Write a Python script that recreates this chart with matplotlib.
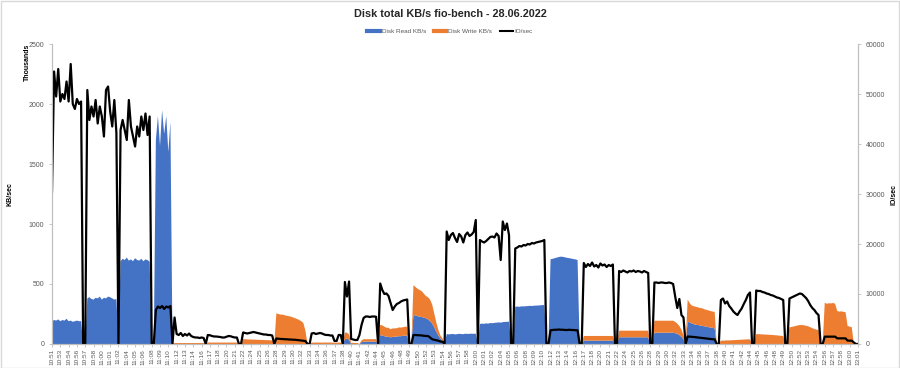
import matplotlib
matplotlib.use('Agg')
import matplotlib.pyplot as plt
from matplotlib.lines import Line2D
from matplotlib.patches import Rectangle
import numpy as np

plt.rcParams['font.family'] = ['Liberation Sans', 'DejaVu Sans']

# one sample every 20 s, one time label every 4 samples (80 s)
time_labels = [
    '10:51', '10:53', '10:54', '10:56', '10:57', '10:58', '11:00', '11:01', '11:02', '11:04',
    '11:05', '11:06', '11:08', '11:09', '11:10', '11:12', '11:13', '11:14', '11:16', '11:17',
    '11:18', '11:20', '11:21', '11:22', '11:24', '11:25', '11:26', '11:28', '11:29', '11:30',
    '11:32', '11:33', '11:34', '11:36', '11:37', '11:38', '11:40', '11:41', '11:42', '11:44',
    '11:45', '11:46', '11:48', '11:49', '11:50', '11:52', '11:53', '11:54', '11:56', '11:57',
    '11:58', '12:00', '12:01', '12:02', '12:04', '12:05', '12:06', '12:08', '12:09', '12:10',
    '12:12', '12:13', '12:14', '12:16', '12:17', '12:18', '12:20', '12:21', '12:22', '12:24',
    '12:25', '12:26', '12:28', '12:29', '12:30', '12:32', '12:33', '12:34', '12:36', '12:37',
    '12:38', '12:40', '12:41', '12:42', '12:44', '12:45', '12:46', '12:48', '12:49', '12:50',
    '12:52', '12:53', '12:54', '12:56', '12:57', '12:58', '13:00', '13:01',
]

# Disk Read KB/s (thousands)
read_kbs = [
    190, 200, 195, 205, 190, 200, 195, 210, 190, 195, 185, 190, 195, 190, 190,
    0, 0,
    380, 390, 375, 370, 385, 380, 395, 370, 385, 380, 395, 390, 380, 370, 375,
    0,
    690, 710, 700, 720, 695, 705, 690, 715, 700, 695, 710, 690, 705, 700, 685,
    0, 0,
    1700, 1900, 1650, 1950, 1750, 1900, 1600, 1850,
    0,
    0, 0, 0, 0, 0, 0, 0, 0, 0, 0, 0, 0, 0, 0, 0,
    0,
    0, 0, 0, 0, 0, 0, 0, 0, 0, 0, 0, 0, 0, 0, 0,
    0, 0,
    0, 0, 0, 0, 0, 0, 0, 0, 0, 0, 0, 0, 0, 0, 0,
    0,
    0, 0, 0, 0, 0, 0, 0, 0, 0, 0, 0, 0, 0, 0, 0,
    0, 0,
    0, 0, 0, 0, 0, 0, 0, 0, 0, 0, 0,
    0, 0, 0, 0,
    0,
    40, 45, 35,
    0, 0, 0, 0,
    0, 15, 20, 20, 20, 20, 20, 20, 20,
    0,
    75, 70, 65, 60, 60, 55, 60, 60, 62, 65, 65, 68, 70, 70,
    0, 0,
    242, 238, 232, 228, 225, 220, 215, 205, 190, 172, 140, 103, 70, 47, 25,
    0,
    83, 80, 82, 84, 80, 82, 85, 83, 82, 86, 84, 85, 86, 85, 86,
    0,
    167, 170, 168, 172, 170, 175, 173, 176, 178, 180, 178, 182, 184, 185, 186,
    0, 0,
    311, 312, 310, 314, 313, 315, 316, 318, 317, 319, 320, 321, 322, 324, 325,
    0, 0,
    706, 710, 715, 720, 725, 728, 726, 722, 718, 715, 712, 708, 705, 700,
    0, 0,
    28, 28, 28, 28, 28, 28, 28, 28, 28, 28, 28, 28, 28, 28, 28,
    0, 0,
    56, 56, 56, 56, 56, 56, 56, 56, 56, 56, 56, 56, 56, 56, 56,
    0, 0,
    94, 94, 94, 94, 94, 94, 94, 94, 94, 94, 90, 85, 75, 60, 40,
    0,
    186, 180, 172, 165, 160, 158, 155, 150, 148, 145, 140, 138, 135, 130,
    0, 0,
    0, 0, 0, 0, 0, 0, 0, 0, 0, 0, 0, 0, 0, 0, 0,
    0, 0,
    0, 0, 0, 0, 0, 0, 0, 0, 0, 0, 0, 0, 0, 0,
    0, 0,
    0, 0, 0, 0, 0, 0, 0, 0, 0, 0, 0, 0, 0, 0, 0,
    0, 0,
    0, 0, 0, 0, 0, 0, 0, 0, 0, 0, 0, 0, 0, 0,
    0, 0, 0,
]

# Disk Write KB/s (thousands)
write_kbs = [
    0, 0, 0, 0, 0, 0, 0, 0, 0, 0, 0, 0, 0, 0, 0,
    0, 0,
    0, 0, 0, 0, 0, 0, 0, 0, 0, 0, 0, 0, 0, 0, 0,
    0,
    0, 0, 0, 0, 0, 0, 0, 0, 0, 0, 0, 0, 0, 0, 0,
    0, 0,
    0, 0, 0, 0, 0, 0, 0, 0,
    0,
    8, 8, 8, 8, 8, 8, 8, 8, 8, 8, 8, 8, 8, 8, 8,
    0,
    12, 12, 12, 12, 12, 12, 12, 12, 12, 12, 12, 12, 12, 12, 12,
    0, 0,
    40, 40, 38, 38, 37, 36, 36, 35, 34, 34, 33, 32, 32, 31, 30,
    0,
    255, 250, 245, 245, 240, 235, 232, 228, 222, 215, 208, 200, 190, 175, 110,
    0, 0,
    12, 12, 12, 12, 12, 12, 12, 12, 12, 12, 12,
    10, 10, 12, 12,
    0,
    55, 50, 45,
    10, 10, 8, 8,
    0, 15, 20, 20, 20, 20, 20, 20, 20,
    0,
    85, 85, 80, 75, 75, 68, 70, 70, 70, 73, 72, 72, 74, 74,
    0, 0,
    248, 237, 228, 222, 215, 200, 185, 185, 180, 158, 116, 77, 47, 23, 22,
    0,
    0, 0, 0, 0, 0, 0, 0, 0, 0, 0, 0, 0, 0, 0, 0,
    0,
    0, 0, 0, 0, 0, 0, 0, 0, 0, 0, 0, 0, 0, 0, 0,
    0, 0,
    0, 0, 0, 0, 0, 0, 0, 0, 0, 0, 0, 0, 0, 0, 0,
    0, 0,
    0, 0, 0, 0, 0, 0, 0, 0, 0, 0, 0, 0, 0, 0,
    0, 0,
    39, 39, 39, 39, 39, 39, 39, 39, 39, 39, 39, 39, 39, 39, 39,
    0, 0,
    55, 55, 55, 55, 55, 55, 55, 55, 55, 55, 55, 55, 55, 55, 55,
    0, 0,
    100, 100, 100, 100, 100, 100, 100, 100, 100, 100, 95, 85, 75, 60, 30,
    0,
    184, 160, 148, 150, 150, 147, 145, 148, 142, 140, 140, 137, 135, 138,
    0, 0,
    28, 28, 29, 30, 30, 31, 32, 33, 34, 35, 36, 37, 38, 39, 39,
    0, 0,
    83, 82, 81, 80, 79, 78, 77, 76, 75, 73, 72, 70, 68, 67,
    0, 0,
    139, 142, 146, 150, 155, 158, 158, 156, 152, 148, 140, 132, 125, 120, 117,
    0, 0,
    345, 335, 340, 338, 342, 335, 275, 270, 272, 268, 265, 150, 145, 140,
    0, 0, 0,
]

# IO/sec (thousands)
io_per_sec = [
    30.5, 54.5, 49.5, 55.0, 48.5, 50.0, 49.0, 52.5, 48.5, 56.0, 48.0, 47.0, 49.0, 48.0, 48.5,
    0, 0,
    50.8, 44.8, 47.5, 45.5, 48.8, 44.1, 47.5, 45.5, 41.5, 50.8, 51.5, 46.5, 43.5, 48.8, 42.2,
    0,
    42.8, 44.8, 42.8, 40.8, 48.8, 43.5, 41.5, 39.5, 43.5, 41.5, 45.5, 42.8, 46.1, 41.8, 45.5,
    0, 0,
    6.8, 7.5, 7.2, 7.6, 7.0, 7.5, 7.3, 7.6,
    0,
    5.3, 2.0, 1.8, 2.2, 1.6, 2.0, 1.7, 2.1, 1.6, 1.4, 1.3, 1.3, 1.2, 1.3, 1.2,
    0,
    1.8, 1.75, 1.6, 1.5, 1.5, 1.45, 1.4, 1.3, 1.3, 1.45, 1.6, 1.55, 1.4, 1.3, 1.3,
    0, 0,
    2.3, 2.2, 2.1, 2.2, 2.3, 2.4, 2.3, 2.2, 2.1, 2.0, 1.9, 1.9, 1.8, 1.8, 1.7,
    0,
    1.1, 1.05, 1.0, 1.0, 0.95, 0.95, 0.9, 0.9, 0.85, 0.85, 0.8, 0.75, 0.7, 0.65, 0.6,
    0, 0,
    2.1, 2.2, 2.0, 2.1, 2.2, 2.1, 1.9, 1.8, 1.8, 1.7, 1.7,
    0.6, 0.6, 1.8, 1.8,
    0,
    12.4, 9.5, 12.5,
    1.0, 0.9, 0.8, 0.8,
    1.8, 3.8, 5.2, 5.5, 5.5, 5.4, 5.5, 5.5, 5.45,
    0,
    12.1, 10.8, 10.0, 10.1, 9.6, 8.2, 6.8, 7.5, 8.0, 8.2, 8.5, 8.7, 8.8, 8.9,
    0, 0,
    1.8, 1.8, 1.75, 1.75, 1.7, 1.65, 1.6, 1.6, 1.3, 0.95, 0.85, 0.75, 0.65, 0.5, 0.45,
    0,
    22.5, 20.8, 21.8, 22.2, 21.2, 20.4, 22.0, 21.5, 20.3, 21.8, 22.3, 21.6, 21.9, 22.4, 24.8,
    0,
    20.8, 20.5, 20.3, 20.6, 21.0, 21.4, 21.5, 21.3, 22.1, 21.6, 16.8, 24.5, 22.8, 24.1, 21.8,
    0, 0,
    19.1, 19.3, 19.6, 19.5, 19.8, 19.7, 20.0, 19.9, 20.2, 20.1, 20.3, 20.4, 20.5, 20.6, 20.8,
    0, 0,
    2.75, 2.8, 2.85, 2.85, 2.9, 2.85, 2.85, 2.8, 2.8, 2.85, 2.8, 2.8, 2.75, 2.75,
    0, 0,
    16.2, 15.4, 16.0, 15.6, 16.3, 15.5, 15.8, 15.3, 16.1, 15.7, 15.9, 15.4, 15.8, 15.6, 15.9,
    0, 0,
    14.6, 14.4, 14.7, 14.5, 14.3, 14.6, 14.5, 14.7, 14.4, 14.6, 14.5, 14.3, 14.6, 14.4, 14.2,
    0, 0,
    12.3, 12.3, 12.2, 12.3, 12.3, 12.2, 12.2, 12.3, 12.2, 12.0, 9.5, 7.2, 9.0, 5.8, 5.3,
    0,
    1.5, 1.47, 1.45, 1.4, 1.35, 1.3, 1.25, 1.2, 1.15, 1.1, 1.05, 1.0, 0.95, 0.93,
    0, 0,
    8.8, 9.1, 8.1, 8.5, 7.6, 7.1, 6.5, 6.1, 5.8, 6.5, 7.1, 8.0, 8.8, 9.8, 10.3,
    0, 0,
    10.7, 10.6, 10.6, 10.4, 10.3, 10.1, 10.0, 9.8, 9.7, 9.5, 9.3, 9.2, 9.0, 8.8,
    0, 0,
    9.1, 9.3, 9.5, 9.7, 9.9, 10.1, 10.0, 9.6, 9.2, 8.6, 7.8, 7.2, 6.8, 6.2, 5.8,
    0, 0,
    1.47, 1.47, 1.47, 1.47, 1.47, 1.47, 1.13, 1.13, 1.13, 1.13, 1.13, 0.67, 0.67, 0.67,
    0.3, 0, 0,
]

if not (len(read_kbs) == len(write_kbs) == len(io_per_sec)):
    raise ValueError(f'lengths {len(read_kbs)} {len(write_kbs)} {len(io_per_sec)}')

BLUE = '#4472C4'
ORANGE = '#ED7D31'
GREY = '#595959'
AXIS = '#BFBFBF'
W, H = 900, 368

samples = np.arange(len(read_kbs))

fig = plt.figure(figsize=(W / 100, H / 100), dpi=100, facecolor='white')
ax = fig.add_axes([52 / W, 1 - 344 / H, 806 / W, 300 / H])

ax.stackplot(samples, read_kbs, write_kbs, colors=[BLUE, ORANGE], linewidth=0)
ax.set_ylim(0, 2500)
ax.set_xlim(0, 388)
ax.set_yticks(range(0, 2501, 500))
ax.set_xticks(np.arange(len(time_labels)) * 4)
ax.set_xticklabels(time_labels, rotation=90)

ax2 = ax.twinx()
ax2.plot(samples, np.array(io_per_sec) * 1000, color='black', lw=1.6)
ax2.set_ylim(0, 60000)
ax2.set_yticks(range(0, 60001, 10000))

for a in (ax, ax2):
    a.tick_params(labelsize=5, colors=GREY, length=2, width=0.6)
    a.tick_params(axis='both', color=AXIS)
    a.spines['top'].set_visible(False)
    for side in ('left', 'right', 'bottom'):
        a.spines[side].set_color(AXIS)
        a.spines[side].set_linewidth(0.8)
ax.tick_params(axis='x', labelsize=4.6, pad=1.5)

ax.set_ylabel('KB/sec', fontsize=5, fontweight='bold', color='black')
ax.yaxis.set_label_coords(-38 / 806, 0.5)
ax2.set_ylabel('IO/sec', fontsize=5, fontweight='bold', color='black')
ax2.yaxis.set_label_coords(1 + 32 / 806, 0.5)
fig.text(27 / W, 1 - 62 / H, 'Thousands', rotation=90, fontsize=5, fontweight='bold',
         ha='center', va='center')

fig.text(0.5, 1 - 14 / H, 'Disk total KB/s fio-bench - 28.06.2022', ha='center', va='center',
         fontsize=7.8, fontweight='bold', color='#262626')

handles = [Line2D([], [], color=BLUE, lw=3), Line2D([], [], color=ORANGE, lw=3),
           Line2D([], [], color='black', lw=1.5)]
fig.legend(handles, ['Disk Read KB/s', 'Disk Write KB/s', 'IO/sec'], loc='center',
           bbox_to_anchor=(0.5, 1 - 31 / H), ncol=3, frameon=False, fontsize=4.6,
           handlelength=2.0, handletextpad=0.3, columnspacing=1.2, labelcolor=GREY)

fig.patches.append(Rectangle((0.5 / W, 0.5 / H), 1 - 1.5 / W, 1 - 1.5 / H, transform=fig.transFigure,
                             fill=False, edgecolor='#D9D9D9', lw=1))

fig.savefig('out.png', dpi=100, facecolor='white')
